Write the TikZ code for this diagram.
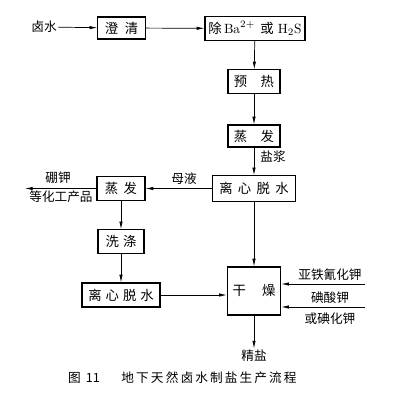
\documentclass[tikz,border=0pt]{standalone}
\usepackage{fontspec}
\newfontfamily\cjk{Noto Sans CJK SC}
\usetikzlibrary{arrows.meta}

\tikzset{
  box/.style={draw,line width=0.8pt,inner sep=0pt,
              font=\cjk\fontsize{9.5pt}{11pt}\selectfont},
  lbl/.style={inner sep=1pt,font=\cjk\fontsize{9pt}{11pt}\selectfont},
  flow/.style={line width=0.5pt,-{Latex[length=5.5pt,width=2.4pt]}},
}

\begin{document}
\begin{tikzpicture}[x=0.025cm,y=-0.025cm]
  % --- canvas in pixel units: 400 x 400, y downwards ---
  \useasboundingbox (0,0) rectangle (400,400);
  % --- main line (right column) ---
  \node[box,minimum width=1.18cm,minimum height=0.55cm] (cq) at (121.5,28) {澄\hspace{0.5em}清};
  \node[box,minimum width=2.5cm,minimum height=0.58cm] (chuba) at (255,28.5)
       {除\,\textrm{Ba}$^{2+}$\hspace{0.4em}或\hspace{0.3em}\textrm{H}$_2$\textrm{S}};
  \node[box,minimum width=1.3cm,minimum height=0.58cm] (yure) at (254,81.5) {预\hspace{1em}热};
  \node[box,minimum width=1.3cm,minimum height=0.55cm] (zfa) at (254,136) {蒸\hspace{1em}发};
  \node[box,minimum width=2.08cm,minimum height=0.63cm] (lxa) at (254,188.5)
       {离\hspace{0.4em}心\hspace{0.4em}脱\hspace{0.4em}水};
  \node[box,minimum width=1.33cm,minimum height=1.2cm] (gz) at (254,291) {干\hspace{1.2em}燥};
  % --- side line (left column) ---
  \node[box,minimum width=1.2cm,minimum height=0.58cm] (zfb) at (121,188.5) {蒸\hspace{0.4em}发};
  \node[box,minimum width=1.15cm,minimum height=0.58cm] (xd) at (121,241.5) {洗\hspace{0.3em}涤};
  \node[box,minimum width=1.95cm,minimum height=0.6cm] (lxb) at (121,295)
       {离\hspace{0.3em}心\hspace{0.3em}脱\hspace{0.3em}水};
  % --- free labels ---
  \node[lbl] (lushui) at (44,27) {卤水};
  \node[lbl] (yanjiang) at (273,157) {盐浆};
  \node[lbl] (muye) at (184,179) {母液};
  \node[lbl] (pengjia) at (58,178) {硼钾};
  \node[lbl] (chanpin) at (61,197) {等化工产品};
  \node[lbl] (yatie) at (330,275) {亚铁氰化钾};
  \node[lbl] (dsj) at (330,298) {碘酸钾};
  \node[lbl] (dhj) at (330,319) {或碘化钾};
  \node[lbl] (jingyan) at (254,356) {精盐};
  \coordinate (out) at (25,188.5);
  \coordinate (ina) at (365,284);
  \coordinate (inb) at (365,307);
  % --- connectors ---
  \draw[flow] (lushui) -- (cq);
  \draw[flow] (cq) -- (chuba);
  \draw[flow] (chuba) -- (yure);
  \draw[flow] (yure) -- (zfa);
  \draw[flow] (zfa) -- (lxa);
  \draw[flow] (lxa) -- (zfb);
  \draw[flow] (zfb.west) -- (out);
  \draw[flow] (zfb) -- (xd);
  \draw[flow] (xd) -- (lxb);
  \draw[flow] (lxb.east) -- (lxb.east -| gz.west);
  \draw[flow] (lxa) -- (gz);
  \draw[flow] (ina) -- (ina -| gz.east);
  \draw[flow] (inb) -- (inb -| gz.east);
  \draw[flow] (gz) -- (jingyan);
  % --- caption ---
  \node[lbl] (capno) at (84,378) {图\hspace{0.4em}11};
  \node[lbl] (captxt) at (209,378)
       {地\,下\,天\,然\,卤\,水\,制\,盐\,生\,产\,流\,程};
\end{tikzpicture}
\end{document}
